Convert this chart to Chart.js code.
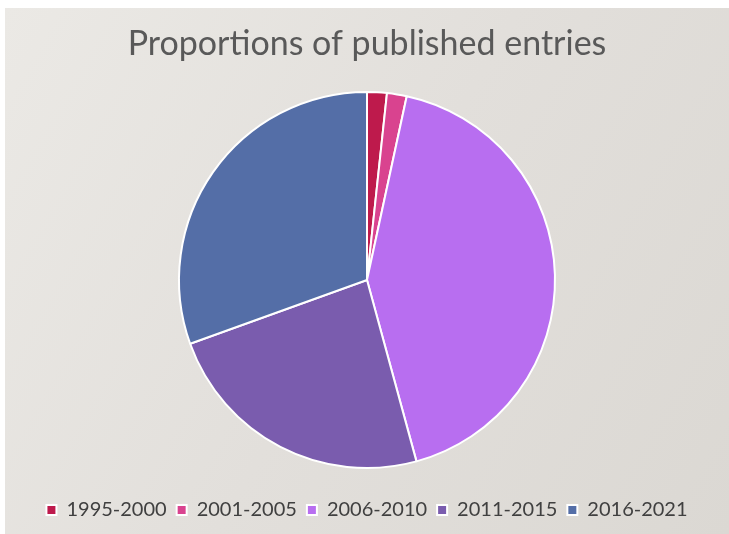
<!DOCTYPE html>
<html>
<head>
<meta charset="utf-8">
<script src="https://cdn.jsdelivr.net/npm/chart.js@4/dist/chart.umd.min.js"></script>
<style>
  html, body { margin: 0; padding: 0; background: #ffffff; }
  #wrap { position: absolute; left: 5px; top: 8px; width: 724px; height: 526px;
          background: linear-gradient(120deg, #ebe9e5 0%, #e2dfdb 50%, #dbd8d3 100%); }
  canvas { display: block; }
</style>
</head>
<body>
<div id="wrap"><canvas id="c" width="724" height="526"></canvas></div>
<script>
const titleText = "Proportions of published entries";
const categories = ["1995-2000", "2001-2005", "2006-2010", "2011-2015", "2016-2021"];
const entryCounts = [2, 2, 50, 28, 36];
const sliceColors = ["#be1a4c", "#d9438f", "#b86ef0", "#7a5cae", "#546ea7"];

new Chart(document.getElementById("c"), {
  type: "pie",
  data: {
    labels: categories,
    datasets: [{
      data: entryCounts,
      backgroundColor: sliceColors,
      borderColor: "#ffffff",
      borderWidth: 2,
      radius: 188
    }]
  },
  options: {
    responsive: false,
    animation: false,
    layout: { padding: { top: 0, bottom: 4, left: 0, right: 0 } },
    plugins: {
      title: {
        display: true,
        text: titleText,
        color: "#595959",
        font: { family: "Lato", size: 34, weight: "normal" },
        padding: { top: 15.6, bottom: 5.6 }
      },
      legend: {
        position: "bottom",
        labels: {
          color: "#404040",
          font: { family: "Lato", size: 20 },
          boxWidth: 10,
          boxHeight: 10,
          padding: 10
        }
      },
      tooltip: { enabled: false }
    }
  }
});
</script>
</body>
</html>
